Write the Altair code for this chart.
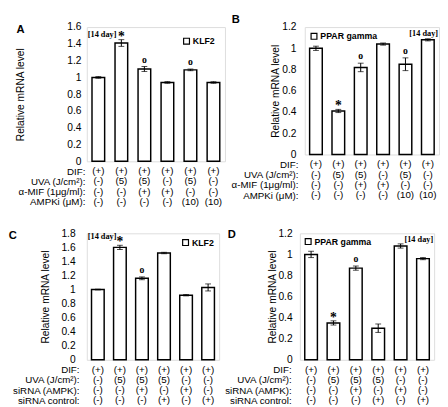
import altair as alt
import pandas as pd

conds = ["1", "2", "3", "4", "5", "6"]

# Panel A (KLF2)
a_vals = [1.00, 1.41, 1.10, 0.94, 1.09, 0.94]
a_errs = [0.01, 0.04, 0.03, 0.01, 0.01, 0.01]
a_marks = ["", "*", "o", "", "o", ""]
a_ticks = [0, 0.2, 0.4, 0.6, 0.8, 1, 1.2, 1.4, 1.6]

# Panel B (PPAR gamma)
b_vals = [1.00, 0.41, 0.82, 1.04, 0.85, 1.08]
b_errs = [0.02, 0.015, 0.04, 0.01, 0.06, 0.01]
b_marks = ["", "*", "o", "", "o", ""]
b_ticks = [0, 0.2, 0.4, 0.6, 0.8, 1, 1.2]

# Panel C (KLF2)
c_vals = [1.00, 1.60, 1.16, 1.52, 0.92, 1.03]
c_errs = [0.005, 0.03, 0.02, 0.01, 0.01, 0.05]
c_marks = ["", "*", "o", "", "", ""]
c_ticks = [0, 0.2, 0.4, 0.6, 0.8, 1, 1.2, 1.4, 1.6, 1.8]

# Panel D (PPAR gamma)
d_vals = [1.00, 0.35, 0.87, 0.30, 1.08, 0.96]
d_errs = [0.03, 0.02, 0.02, 0.04, 0.02, 0.01]
d_marks = ["", "*", "o", "", "", ""]
d_ticks = [0, 0.2, 0.4, 0.6, 0.8, 1, 1.2]

rows_ab = ["DIF:", "UVA (J/cm²):", "α-MIF (1μg/ml):", "AMPKi (μM):"]
cells_ab = [
    ["(+)", "(+)", "(+)", "(+)", "(+)", "(+)"],
    ["(-)", "(5)", "(5)", "(-)", "(5)", "(-)"],
    ["(-)", "(-)", "(+)", "(+)", "(-)", "(-)"],
    ["(-)", "(-)", "(-)", "(-)", "(10)", "(10)"],
]
rows_cd = ["DIF:", "UVA (J/cm²):", "siRNA (AMPK):", "siRNA control:"]
cells_cd = [
    ["(+)", "(+)", "(+)", "(+)", "(+)", "(+)"],
    ["(-)", "(5)", "(5)", "(5)", "(-)", "(-)"],
    ["(-)", "(-)", "(+)", "(-)", "(+)", "(-)"],
    ["(-)", "(-)", "(-)", "(+)", "(-)", "(+)"],
]

SANS = "Liberation Sans"
SERIF = "Liberation Serif"
FS = 10


def panel(letter, gene, vals, errs, marks, ticks, rows, cells, width, height,
          legend_orient, legend_offset, note_cond, note_align, label_pad,
          title_pad, row_pad, letter_x, letter_y, note_dy):
    df = pd.DataFrame({"cond": conds, "value": vals, "err": errs, "mark": marks})
    df["lo"] = df["value"] - df["err"]
    df["hi"] = df["value"] + df["err"]
    df["gene"] = gene

    x = alt.X("cond:N", sort=conds, axis=None,
              scale=alt.Scale(paddingInner=0, paddingOuter=0))
    yscale = alt.Scale(domain=[ticks[0], ticks[-1]], nice=False)
    yaxis = alt.Axis(values=ticks, format="~g", grid=False, domain=False,
                     ticks=False, labelPadding=label_pad, labelFont=SANS,
                     labelFontSize=10.5, labelColor="black",
                     title="Relative mRNA level", titleFont=SANS,
                     titleFontSize=10.5, titleFontWeight="normal",
                     titleColor="black", titlePadding=title_pad)

    def Y(field):
        return alt.Y(field, scale=yscale, axis=yaxis)

    base = alt.Chart(df)
    bars = base.mark_bar(size=13, stroke="black", strokeWidth=1.5).encode(
        x=x, y=Y("value:Q"),
        color=alt.Color("gene:N", scale=alt.Scale(range=["white"]),
                        legend=alt.Legend(title=None, orient=legend_orient,
                                          offset=legend_offset, padding=0,
                                          symbolType="square", symbolSize=36,
                                          symbolStrokeColor="black",
                                          symbolStrokeWidth=1.2,
                                          symbolFillColor="white",
                                          labelOffset=2,
                                          labelFont=SANS, labelFontSize=9,
                                          labelFontWeight="bold",
                                          labelColor="black")))
    rule = base.mark_rule(color="black", strokeWidth=1).encode(
        x=x, y=Y("lo:Q"), y2="hi:Q")
    cap_lo = base.mark_tick(color="black", size=6, thickness=1).encode(x=x, y=Y("lo:Q"))
    cap_hi = base.mark_tick(color="black", size=6, thickness=1).encode(x=x, y=Y("hi:Q"))
    stars = base.transform_filter("datum.mark == '*'").mark_text(
        font=SERIF, fontWeight="bold", fontSize=14, baseline="alphabetic",
        dy=1, color="black").encode(x=x, y=Y("hi:Q"), text="mark:N")
    circs = base.transform_filter("datum.mark == 'o'").mark_text(
        font=SERIF, fontWeight="bold", fontSize=10, baseline="alphabetic",
        dy=-4, color="black").encode(x=x, y=Y("hi:Q"), text="mark:N")

    half = width / 12.0
    note_dx = -half + 1 if note_align == "left" else half - 1
    note_df = pd.DataFrame({"cond": [note_cond], "y": [ticks[-1]], "txt": ["[14 day]"]})
    note = alt.Chart(note_df).mark_text(
        font=SERIF, fontWeight="bold", fontSize=8.5, baseline="top", dy=note_dy,
        dx=note_dx, align=note_align, color="black").encode(
        x=x, y=Y("y:Q"), text="txt:N")

    let_df = pd.DataFrame({"txt": [letter]})
    let = alt.Chart(let_df).mark_text(
        font=SANS, fontWeight="bold", fontSize=11.5, baseline="top",
        align="center", color="black").encode(
        x=alt.value(letter_x), y=alt.value(letter_y), text="txt:N")

    top = alt.layer(bars, rule, cap_lo, cap_hi, stars, circs, note, let).properties(
        width=width, height=height)

    recs = []
    for r, row in enumerate(rows):
        for c, cond in enumerate(conds):
            recs.append({"row": row, "cond": cond, "txt": cells[r][c]})
    tdf = pd.DataFrame(recs)
    table = alt.Chart(tdf).mark_text(font=SANS, fontSize=FS, color="black").encode(
        x=alt.X("cond:N", sort=conds, axis=None,
                scale=alt.Scale(paddingInner=0, paddingOuter=0)),
        y=alt.Y("row:N", sort=rows,
                axis=alt.Axis(title=None, domain=False, ticks=False,
                              labelPadding=row_pad, labelFont=SANS,
                              labelFontSize=FS, labelColor="black",
                              labelAlign="right")),
        text="txt:N").properties(width=width, height=42,
                                 view=alt.ViewBackground(stroke=None))
    return alt.vconcat(top, table, spacing=5, bounds="flush").resolve_scale(
        color="independent")


pA = panel("A", "KLF2", a_vals, a_errs, a_marks, a_ticks, rows_ab, cells_ab,
           142, 138, "top-right", 10, "1", "left", 6, 42, 2, -68, -3, 3)
pB = panel("B", "PPAR gamma", b_vals, b_errs, b_marks, b_ticks, rows_ab, cells_ab,
           138, 131, "top-left", 5, "6", "right", 9, 1, 7, -71, -13, 2)
pC = panel("C", "KLF2", c_vals, c_errs, c_marks, c_ticks, rows_cd, cells_cd,
           136, 130, "top-right", 5, "1", "left", 12, 11, 8, -76, -3, -1)
pD = panel("D", "PPAR gamma", d_vals, d_errs, d_marks, d_ticks, rows_cd, cells_cd,
           138, 130, "top-left", 4, "6", "right", 8, 0, 9, -70, -4, 2)

chart = alt.vconcat(
    alt.hconcat(pA, pB, spacing=5).resolve_scale(color="independent"),
    alt.hconcat(pC, pD, spacing=4).resolve_scale(color="independent"),
    spacing=21,
).resolve_scale(color="independent").properties(
    padding=0
).configure_view(stroke="#7f7f7f", strokeWidth=1).configure(font=SANS)

chart.save("out.html", embed_options={"renderer": "svg", "actions": False})
